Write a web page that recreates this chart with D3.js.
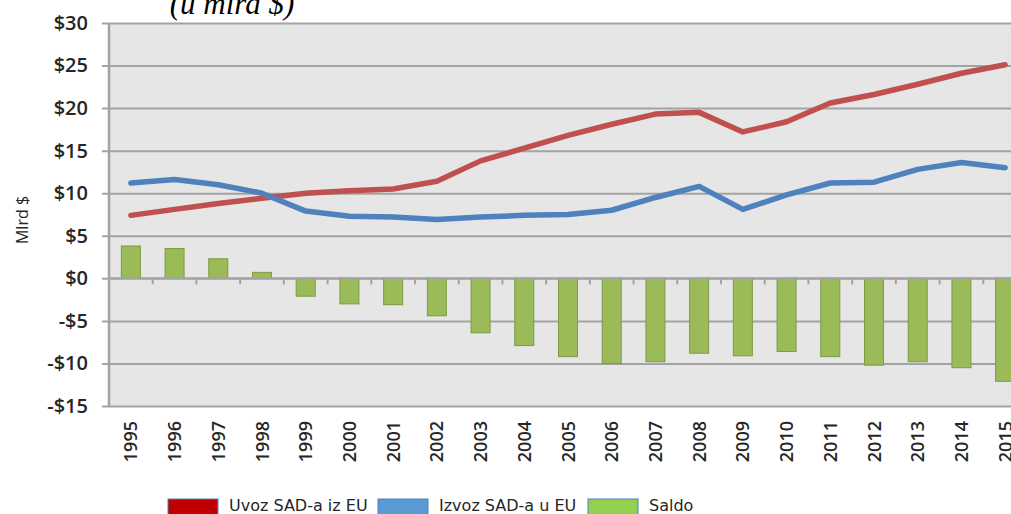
<!DOCTYPE html>
<html><head><meta charset="utf-8">
<script src="https://cdn.jsdelivr.net/npm/d3@7"></script>
<style>
html,body{margin:0;padding:0;background:#fff;overflow:hidden}
svg{display:block}
</style></head>
<body>
<svg id="c" width="1011" height="514"></svg>
<script>
const years = ["1995","1996","1997","1998","1999","2000","2001","2002","2003","2004","2005","2006","2007","2008","2009","2010","2011","2012","2013","2014","2015"];
const uvoz = [7.4, 8.1, 8.8, 9.4, 10.0, 10.3, 10.5, 11.4, 13.8, 15.3, 16.8, 18.1, 19.3, 19.5, 17.2, 18.4, 20.6, 21.6, 22.8, 24.1, 25.1];
const izvoz = [11.2, 11.6, 11.0, 10.0, 7.9, 7.3, 7.2, 6.9, 7.2, 7.4, 7.5, 8.0, 9.5, 10.8, 8.1, 9.8, 11.2, 11.3, 12.8, 13.6, 13.0];
const saldo = [3.8, 3.5, 2.3, 0.7, -2.1, -3.0, -3.1, -4.4, -6.4, -7.9, -9.2, -10.0, -9.8, -8.8, -9.1, -8.6, -9.2, -10.2, -9.8, -10.5, -12.1];
const yTicks = [30, 25, 20, 15, 10, 5, 0, -5, -10, -15];
const seriesNames = ["Uvoz SAD-a iz EU", "Izvoz SAD-a u EU", "Saldo"];
const legendColors = ["#c00000", "#5b9bd5", "#92d050"];

const svg = d3.select("#c");
const L = 109, R = 1027, T = 23, B = 406;

const x = d3.scaleBand().domain(years).range([L, R]).paddingInner(0).paddingOuter(0);
const y = d3.scaleLinear().domain([-15, 30]).range([B, T]);

// plot background
svg.append("rect").attr("x", L).attr("y", T).attr("width", R - L).attr("height", B - T).attr("fill", "#e6e6e6");

// gridlines + y axis ticks
const yAxis = d3.axisLeft(y).tickValues(yTicks).tickSize(-(R - L) - 7).tickPadding(14)
  .tickFormat(d => (d < 0 ? "-$" : "$") + Math.abs(d));
const gy = svg.append("g").attr("transform", `translate(${L},0)`).call(yAxis);
gy.select(".domain").remove();
gy.selectAll(".tick line").attr("x1", -7).attr("x2", R - L).attr("stroke", "#a3a3a3").attr("stroke-width", 2);
gy.selectAll(".tick text").attr("x", -21).attr("fill", "#262626")
  .style("font-family", "'Open Sans', sans-serif").style("font-weight", 600).style("font-size", "20px");

// left axis line
svg.append("line").attr("x1", L).attr("x2", L).attr("y1", T).attr("y2", B).attr("stroke", "#a3a3a3").attr("stroke-width", 2.5);

// bars
const bw = 19;
svg.append("g").selectAll("rect").data(saldo).join("rect")
  .attr("x", (d, i) => x(years[i]) + x.bandwidth() / 2 - bw / 2)
  .attr("width", bw)
  .attr("y", d => y(Math.max(0, d)))
  .attr("height", d => Math.abs(y(d) - y(0)))
  .attr("fill", "#9bbb59").attr("stroke", "#7d9a45").attr("stroke-width", 1);

// zero axis line with ticks between categories
svg.append("line").attr("x1", L).attr("x2", R).attr("y1", y(0)).attr("y2", y(0)).attr("stroke", "#a3a3a3").attr("stroke-width", 2);
svg.append("g").selectAll("line").data(years.slice(1)).join("line")
  .attr("x1", d => x(d)).attr("x2", d => x(d))
  .attr("y1", y(0)).attr("y2", y(0) + 6).attr("stroke", "#a3a3a3").attr("stroke-width", 2);

// lines
const line = d3.line().x((d, i) => x(years[i]) + x.bandwidth() / 2).y(d => y(d));
svg.append("path").datum(uvoz).attr("d", line).attr("fill", "none").attr("stroke", "#c0504d")
  .attr("stroke-width", 5.5).attr("stroke-linejoin", "round").attr("stroke-linecap", "round");
svg.append("path").datum(izvoz).attr("d", line).attr("fill", "none").attr("stroke", "#4f81bd")
  .attr("stroke-width", 5.5).attr("stroke-linejoin", "round").attr("stroke-linecap", "round");

// x labels
svg.append("g").selectAll("text").data(years).join("text")
  .attr("transform", d => `translate(${x(d) + x.bandwidth() / 2 + 6.5},421) rotate(-90)`)
  .attr("text-anchor", "end")
  .attr("fill", "#262626")
  .style("font-family", "'Open Sans', sans-serif").style("font-weight", 600).style("font-size", "18px")
  .text(d => d);

// y axis title
svg.append("text").attr("transform", "translate(28,220) rotate(-90)").attr("text-anchor", "middle")
  .attr("fill", "#262626").style("font-family", "'Open Sans', sans-serif").style("font-size", "16px").text("Mlrd $");

// chart title (cut at top, as in the source)
svg.append("text").attr("x", 232).attr("y", 14).attr("text-anchor", "middle")
  .style("font-family", "'Liberation Serif', serif").style("font-style", "italic").style("font-size", "31px")
  .attr("fill", "#000").text("(u mlrd $)");

// legend
const legX = [168, 378, 588];
const lg = svg.append("g").selectAll("g").data(seriesNames).join("g");
lg.append("rect").attr("x", (d, i) => legX[i]).attr("y", 499).attr("width", 50).attr("height", 20)
  .attr("fill", (d, i) => legendColors[i]).attr("stroke", "#4f81bd").attr("stroke-width", 1);
lg.append("text").attr("x", (d, i) => legX[i] + 61).attr("y", 511)
  .attr("fill", "#262626").style("font-family", "'DejaVu Sans', sans-serif").style("font-size", "16px")
  .text(d => d);
</script>
</body></html>
